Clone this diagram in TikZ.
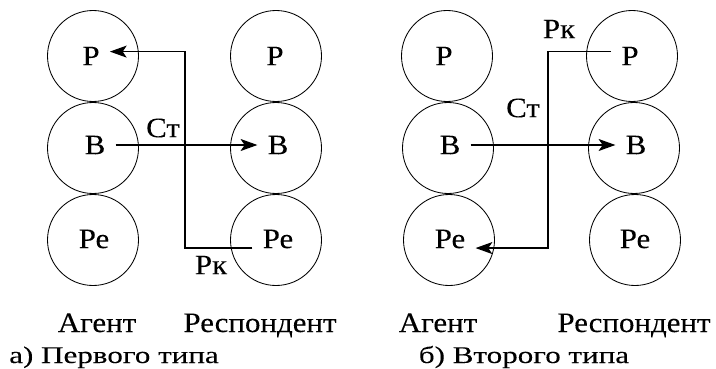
\documentclass[tikz,border=0pt]{standalone}
\usepackage{fontspec}
\setmainfont{Liberation Serif}
\newfontfamily\labelfont{Liberation Serif}[FakeStretch=1.1,FakeBold=0.1]
\newfontfamily\capfont{Liberation Serif}[FakeStretch=1.3,FakeBold=0.1]
\usetikzlibrary{arrows.meta}

\begin{document}
\begin{tikzpicture}[
    x=0.25mm, y=-0.25mm,
    ring/.style={draw,circle,minimum size=22.75mm,inner sep=0pt,line width=0.6pt},
    lbl/.style={inner xsep=2.5mm,inner ysep=0pt,font=\labelfont\fontsize{20}{24}\selectfont},
    tag/.style={inner sep=0pt,font=\labelfont\fontsize{20}{24}\selectfont},
    role/.style={inner sep=0pt,anchor=base,font=\labelfont\fontsize{20}{24}\selectfont},
    subcap/.style={inner sep=0pt,anchor=base,font=\capfont\fontsize{17}{20}\selectfont},
    arrow/.style={-{Stealth[length=4.2mm,width=3mm,inset=1mm]},line width=0.9pt}
  ]
  \useasboundingbox (0,0) rectangle (716,369);

  % а) первого типа
  \node[ring] (aP1r) at (93,56) {};
  \node[ring] (aB1r) at (93,148) {};
  \node[ring] (aPe1r) at (93,240) {};
  \node[ring] (aP2r) at (276,56) {};
  \node[ring] (aB2r) at (276,148) {};
  \node[ring] (aPe2r) at (276,240) {};

  \node[lbl] (aP1) at (91,56) {Р};
  \node[lbl] (aB1) at (95,145) {В};
  \node[lbl] (aPe1) at (94,239) {Ре};
  \node[lbl] (aP2) at (275,56) {Р};
  \node[lbl] (aB2) at (278,145) {В};
  \node[lbl] (aPe2) at (278,239) {Ре};

  \coordinate (aTurn) at (185,0);
  \coordinate (aHi) at ([yshift=1.1mm]aP1.east);
  \draw[arrow] (aB1.east) -- (aB2.west);
  \draw[arrow] (aPe2.base west) -- (aPe2.base west -| aTurn)
    -- (aHi -| aTurn) -- (aHi);

  \node[tag] (aSt) at (163,128) {Ст};
  \node[tag] (aRk) at (211,265) {Рк};

  \node[role] (aAg) at (97,332) {Агент};
  \node[role] (aRe) at (260,332) {Респондент};
  \node[subcap] (aCap) at (114,363) {а) Первого типа};

  % б) второго типа
  \node[ring] (bP1r) at (447,56) {};
  \node[ring] (bB1r) at (448,148) {};
  \node[ring] (bPe1r) at (449,240) {};
  \node[ring] (bP2r) at (632,56) {};
  \node[ring] (bB2r) at (634,148) {};
  \node[ring] (bPe2r) at (635,240) {};

  \node[lbl] (bP1) at (444,56) {Р};
  \node[lbl] (bB1) at (450,145) {В};
  \node[lbl] (bPe1) at (450,239) {Ре};
  \node[lbl] (bP2) at (630,56) {Р};
  \node[lbl] (bB2) at (636,145) {В};
  \node[lbl] (bPe2) at (635,239) {Ре};

  \coordinate (bTurn) at (548,0);
  \coordinate (bHi) at ([yshift=1.2mm]bP2.west);
  \draw[arrow] (bB1.east) -- (bB2.west);
  \draw[arrow] (bHi) -- (bHi -| bTurn)
    -- (bPe1.base east -| bTurn) -- (bPe1.base east);

  \node[tag] (bRk) at (559,29) {Рк};
  \node[tag] (bSt) at (523,108) {Ст};

  \node[role] (bAg) at (438,332) {Агент};
  \node[role] (bRe) at (634,332) {Респондент};
  \node[subcap] (bCap) at (524,363) {б) Второго типа};
\end{tikzpicture}
\end{document}
